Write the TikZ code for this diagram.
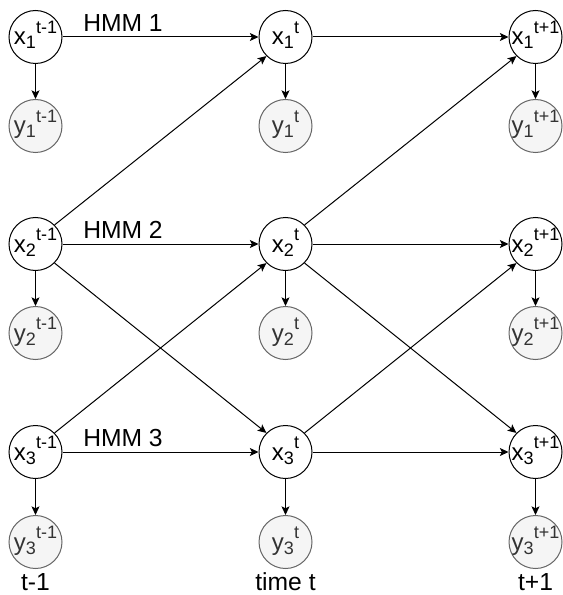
\documentclass[tikz,border=0pt]{standalone}
\usepackage{fontspec}
\setmainfont{Liberation Sans}
\usetikzlibrary{arrows.meta}
\definecolor{obsfill}{HTML}{F5F5F5}
\definecolor{obsline}{HTML}{666666}
\definecolor{obstext}{HTML}{333333}
% variable name with subscript and superscript set one after the other
\newcommand{\stvar}[3]{#1\raisebox{-3pt}{\fontsize{13.5}{14}\selectfont #2}\raisebox{8.5pt}{\fontsize{13.5}{14}\selectfont #3}}
\tikzset{
  hidden/.style={circle, draw=black, fill=white, line width=0.75pt,
    minimum size=39.75pt, inner sep=0pt, text height=12pt, text depth=0pt,
    font=\fontsize{18}{20}\selectfont},
  observed/.style={hidden, draw=obsline, fill=obsfill, text=obstext},
  link/.style={-{Stealth[length=6.5pt,width=6pt,inset=1.5pt]}, line width=0.75pt},
  caption/.style={font=\fontsize{18.5}{20}\selectfont, inner sep=0pt}
}
\begin{document}
\begin{tikzpicture}[x=0.75pt, y=-0.75pt]
\useasboundingbox (0,0) rectangle (562,595);

% hidden states, one row per chain, one column per time step
\foreach \r/\yy in {1/37, 2/244, 3/452} {
  \node[hidden] (x\r a) at (35.5,\yy) {\stvar{x}{\r}{t-1}};
  \node[hidden] (x\r b) at (285.5,\yy) {\stvar{x}{\r}{t}};
  \node[hidden] (x\r c) at (535.5,\yy) {\stvar{x}{\r}{t+1}};
}
% observations
\foreach \r/\yy in {1/126, 2/333, 3/542} {
  \node[observed] (y\r a) at (35.5,\yy) {\stvar{y}{\r}{t-1}};
  \node[observed] (y\r b) at (285.5,\yy) {\stvar{y}{\r}{t}};
  \node[observed] (y\r c) at (535.5,\yy) {\stvar{y}{\r}{t+1}};
}

% emissions
\foreach \r in {1,2,3} {
  \foreach \c in {a,b,c} {
    \draw[link] (x\r\c.south) -- (y\r\c.north);
  }
}

% transitions within each chain
\foreach \r in {1,2,3} {
  \draw[link] (x\r a.east) -- (x\r b.west);
  \draw[link] (x\r b.east) -- (x\r c.west);
}

% coupling between chains
\draw[link] (x2a.north east) -- (x1b.south west);
\draw[link] (x2a.south east) -- (x3b.north west);
\draw[link] (x3a.north east) -- (x2b.south west);
\draw[link] (x2b.north east) -- (x1c.south west);
\draw[link] (x2b.south east) -- (x3c.north west);
\draw[link] (x3b.north east) -- (x2c.south west);

% chain names
\node[caption] (h1) at (123,23) {HMM 1};
\node[caption] (h2) at (123,230) {HMM 2};
\node[caption] (h3) at (123,438) {HMM 3};

% time axis
\node[caption] (t0) at (35.5,582) {t-1};
\node[caption] (t1) at (285.5,582) {time t};
\node[caption] (t2) at (535.5,582) {t+1};
\end{tikzpicture}
\end{document}
